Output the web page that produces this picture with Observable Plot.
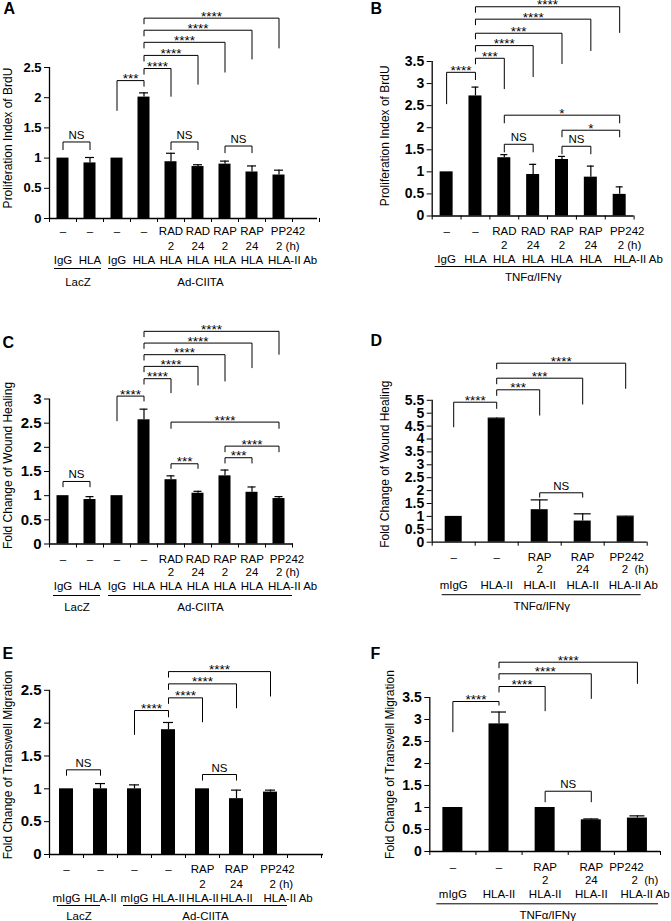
<!DOCTYPE html>
<html><head><meta charset="utf-8">
<script src="https://cdn.jsdelivr.net/npm/d3@7"></script>
<script src="https://cdn.jsdelivr.net/npm/@observablehq/plot@0.6"></script>
<style>
body{margin:0;background:#fff;}
#fig{position:relative;width:671px;height:921px;background:#fff;overflow:hidden;}
.panel{position:absolute;}
.panel svg{overflow:visible;}
</style></head><body><div id="fig"></div>
<script>
// ---------------- DATA ----------------
// Panel A: Proliferation Index of BrdU (LacZ / Ad-CIITA)
const valuesA = [1.00, 0.92, 1.00, 2.01, 0.94, 0.86, 0.90, 0.77, 0.72];
const errorsA = [0, 0.09, 0, 0.07, 0.14, 0.03, 0.05, 0.10, 0.08];
const row1A = ["–", "–", "–", "–", "RAD", "RAD", "RAP", "RAP", "PP242"];
const row2A = ["", "", "", "", "2", "24", "2", "24", "2 (h)"];
const row3A = ["IgG", "HLA", "IgG", "HLA", "HLA", "HLA", "HLA", "HLA", "HLA-II Ab"];
const groupsA = [["LacZ", 0, 1], ["Ad-CIITA", 2, 8]];
const compsA = [[0,1,"NS"],[2,3,"***"],[3,4,"****"],[3,5,"****"],[3,6,"****"],[3,7,"****"],[3,8,"****"],[4,5,"NS"],[6,7,"NS"]];
const ticksA = [0, 0.5, 1, 1.5, 2, 2.5];

// Panel B: Proliferation Index of BrdU (TNFα/IFNγ)
const valuesB = [1.00, 2.72, 1.32, 0.94, 1.28, 0.88, 0.49];
const errorsB = [0, 0.20, 0.07, 0.23, 0.07, 0.25, 0.17];
const row1B = ["–", "–", "RAD", "RAD", "RAP", "RAP", "PP242"];
const row2B = ["", "", "2", "24", "2", "24", "2 (h)"];
const row3B = ["IgG", "HLA", "HLA", "HLA", "HLA", "HLA", "HLA-II Ab"];
const groupsB = [["TNFα/IFNγ", 0, 6]];
const compsB = [[0,1,"****"],[1,2,"***"],[1,3,"****"],[1,4,"***"],[1,5,"****"],[1,6,"****"],[2,6,"*"],[4,6,"*"],[2,3,"NS"],[4,5,"NS"]];
const ticksB = [0, 0.5, 1, 1.5, 2, 2.5, 3, 3.5];

// Panel C: Fold Change of Wound Healing (LacZ / Ad-CIITA)
const valuesC = [1.00, 0.92, 1.00, 2.57, 1.33, 1.05, 1.41, 1.07, 0.94];
const errorsC = [0, 0.06, 0, 0.22, 0.08, 0.04, 0.12, 0.11, 0.04];
const row1C = ["–", "–", "–", "–", "RAD", "RAD", "RAP", "RAP", "PP242"];
const row2C = ["", "", "", "", "2", "24", "2", "24", "2 (h)"];
const row3C = ["IgG", "HLA", "IgG", "HLA", "HLA", "HLA", "HLA", "HLA", "HLA-II Ab"];
const groupsC = [["LacZ", 0, 1], ["Ad-CIITA", 2, 8]];
const compsC = [[0,1,"NS"],[2,3,"****"],[3,4,"****"],[3,5,"****"],[3,6,"****"],[3,7,"****"],[3,8,"****"],[4,8,"****"],[6,8,"****"],[6,7,"***"],[4,5,"***"]];
const ticksC = [0, 0.5, 1, 1.5, 2, 2.5, 3];

// Panel D: Fold Change of Wound Healing (TNFα/IFNγ)
const valuesD = [1.00, 4.78, 1.26, 0.82, 0.98];
const errorsD = [0, 0.03, 0.38, 0.28, 0.03];
const row1D = ["–", "–", "RAP", "RAP", "PP242"];
const row2D = ["", "", "2", "24", "2  (h)"];
const row3D = ["mIgG", "HLA-II", "HLA-II", "HLA-II", "HLA-II Ab"];
const groupsD = [["TNFα/IFNγ", 0, 4]];
const compsD = [[0,1,"****"],[1,2,"***"],[1,3,"***"],[1,4,"****"],[2,3,"NS"]];
const ticksD = [0, 0.5, 1, 1.5, 2, 2.5, 3, 3.5, 4, 4.5, 5, 5.5];

// Panel E: Fold Change of Transwell Migration (LacZ / Ad-CIITA)
const valuesE = [1.00, 1.00, 1.00, 1.90, 1.00, 0.85, 0.95];
const errorsE = [0, 0.08, 0.06, 0.11, 0, 0.13, 0.03];
const row1E = ["–", "–", "–", "–", "RAP", "RAP", "PP242"];
const row2E = ["", "", "", "", "2", "24", "2 (h)"];
const row3E = ["mIgG", "HLA-II", "mIgG", "HLA-II", "HLA-II", "HLA-II", "HLA-II Ab"];
const groupsE = [["LacZ", 0, 1], ["Ad-CIITA", 2, 6]];
const compsE = [[0,1,"NS"],[2,3,"****"],[3,4,"****"],[3,5,"****"],[3,6,"****"],[4,5,"NS"]];
const ticksE = [0, 0.5, 1, 1.5, 2, 2.5];

// Panel F: Fold Change of Transwell Migration (TNFα/IFNγ)
const valuesF = [1.00, 2.90, 1.00, 0.72, 0.76];
const errorsF = [0, 0.27, 0, 0.02, 0.05];
const row1F = ["–", "–", "RAP", "RAP", "PP242"];
const row2F = ["", "", "2", "24", "2  (h)"];
const row3F = ["mIgG", "HLA-II", "HLA-II", "HLA-II", "HLA-II Ab"];
const groupsF = [["TNFα/IFNγ", 0, 4]];
const compsF = [[0,1,"****"],[1,2,"****"],[1,3,"****"],[1,4,"****"],[2,3,"NS"]];
const ticksF = [0, 0.5, 1, 1.5, 2, 2.5, 3, 3.5];

// ---------------- LAYOUT ----------------
// bracket layout per comparison: [level, left-leg end, right-leg end] in y units
const panels = [
  {id:"A", left:0, top:0, width:335, height:300, mL:49, mR:18, mT:67, mB:82, xRange:[49,292], ymax:2.5,
   ticks:ticksA, tickFont:13, values:valuesA, errors:errorsA, rows:[row1A,row2A,row3A], groups:groupsA,
   groupInsets:[[5,2],[5,0]], comps:compsA,
   levels:[[1.267,1.133,1.133],[2.283,1.783,2.183],[2.483,2.383,2.017],[2.70,2.60,2.217],[2.917,2.817,2.417],[3.117,3.017,2.633],[3.317,3.217,2.817],[1.267,1.133,1.133],[1.20,1.083,1.083]],
   barHalf:6, capHalf:4.5, rowDy:[13,28,41.5], lineDy:50, groupDy:64, lastDx:[9,-3,-11], extraTicks:1,
   title:"Proliferation Index of BrdU", titleDx:-41, titleDy:-5, letterX:3, letterY:13.5},
  {id:"B", left:335, top:0, width:336, height:300, mL:96.7, mR:37.4, mT:61, mB:84.5, xRange:[96.7,298.6], ymax:3.5,
   ticks:ticksB, tickFont:14, values:valuesB, errors:errorsB, rows:[row1B,row2B,row3B], groups:groupsB,
   groupInsets:[[3,3]], comps:compsB,
   levels:[[3.255,2.534,3.08],[3.573,3.437,2.875],[3.86,3.724,3.148],[4.14,4.004,3.443],[4.459,4.323,3.739],[4.74,4.604,4.148],[2.284,2.10,2.10],[1.943,1.784,1.784],[1.625,1.443,1.443],[1.58,1.40,1.40]],
   barHalf:6.5, capHalf:3.5, rowDy:[15,29.5,43.5], lineDy:50.5, groupDy:61, lastDx:[7.5,-2,-6], extraTicks:0,
   title:"Proliferation Index of BrdU", titleDx:-46.7, titleDy:-3, letterX:35, letterY:13.5},
  {id:"C", left:0, top:300, width:335, height:320, mL:49, mR:42, mT:98.5, mB:76.5, xRange:[49,292], ymax:3,
   ticks:ticksC, tickFont:15, values:valuesC, errors:errorsC, rows:[row1C,row2C,row3C], groups:groupsC,
   groupInsets:[[4,3],[5,0]], comps:compsC,
   levels:[[1.294,1.176,1.176],[3.06,2.542,2.95],[3.42,3.30,3.122],[3.675,3.555,3.28],[3.917,3.797,3.364],[4.157,4.037,3.64],[4.40,4.28,3.917],[2.522,2.385,2.385],[2.025,1.90,1.90],[1.785,1.667,1.667],[1.66,1.557,1.557]],
   barHalf:6, capHalf:4, rowDy:[15,28,42], lineDy:51.5, groupDy:63, lastDx:[8,-3,-11], extraTicks:0,
   title:"Fold Change of Wound Healing", titleDx:-41, titleDy:-6, letterX:2, letterY:47},
  {id:"D", left:335, top:300, width:336, height:320, mL:96.7, mR:24.3, mT:99.8, mB:78.3, xRange:[96.7,311.7], ymax:5.5,
   ticks:ticksD, tickFont:14, values:valuesD, errors:errorsD, rows:[row1D,row2D,row3D], groups:groupsD,
   groupInsets:[[10,6]], comps:compsD,
   levels:[[5.426,4.457,5.17],[5.907,5.674,4.91],[6.357,6.124,5.337],[6.938,6.705,5.946],[1.915,1.73,1.73]],
   barHalf:8.5, capHalf:8.5, rowDy:[15,27.5,43.5], lineDy:52.5, groupDy:64, lastDx:[1,-4,-17], extraTicks:0,
   title:"Fold Change of Wound Healing", titleDx:-46.7, titleDy:-7, letterX:35, letterY:45},
  {id:"E", left:0, top:620, width:335, height:301, mL:49, mR:12, mT:69.8, mB:67, xRange:[49,287], ymax:2.5,
   ticks:ticksE, tickFont:15, values:valuesE, errors:errorsE, rows:[row1E,row2E,row3E], groups:groupsE,
   groupInsets:[[8,17],[6,0]], comps:compsE,
   levels:[[1.289,1.20,1.20],[2.192,1.822,2.09],[2.385,2.294,2.014],[2.598,2.507,2.227],[2.785,2.694,2.405],[1.218,1.126,1.126]],
   barHalf:7, capHalf:5, rowDy:[15,29.5,43.5], lineDy:51, groupDy:61.5, lastDx:[7,-1,-7], extraTicks:1,
   title:"Fold Change of Transwell Migration", titleDx:-41, titleDy:-7.5, letterX:2, letterY:38},
  {id:"F", left:335, top:620, width:336, height:301, mL:94.3, mR:11, mT:77, mB:70, xRange:[94.3,325], ymax:3.5,
   ticks:ticksF, tickFont:14, values:valuesF, errors:errorsF, rows:[row1F,row2F,row3F], groups:groupsF,
   groupInsets:[[7,2]], comps:compsF,
   levels:[[3.409,2.711,3.318],[3.75,3.614,3.189],[4.039,3.903,3.47],[4.302,4.166,3.811],[1.37,1.12,1.12]],
   barHalf:10, capHalf:7.5, rowDy:[15.5,29,43], lineDy:52.3, groupDy:63.5, lastDx:[-11,-6,-17], extraTicks:0,
   title:"Fold Change of Transwell Migration", titleDx:-39.3, titleDy:-10, letterX:35, letterY:38}
];

const FONT = "Arial, 'Liberation Sans', sans-serif";
const fig = document.getElementById("fig");
const css = document.createElement("style");
css.textContent = panels.map(p =>
  `#p${p.id} g[aria-label^="y-axis"] text{font-weight:bold;font-size:${p.tickFont}px;}`).join("\n");
document.head.appendChild(css);

function makePanel(cfg) {
  const n = cfg.values.length;
  const idx = d3.range(n);
  const fh = cfg.height - cfg.mT - cfg.mB;
  const ppu = fh / cfg.ymax;
  const step = (cfg.xRange[1] - cfg.xRange[0]) / n;
  const bars = idx.map(i => ({i, v: cfg.values[i], e: cfg.errors[i]}));
  const errs = bars.filter(d => d.e > 0);
  const K = "#000";
  const marks = [];
  // bars
  marks.push(Plot.rectY(bars, {x1: d => d.i - cfg.barHalf / step, x2: d => d.i + cfg.barHalf / step, y1: 0, y2: "v", fill: K}));
  // error bars (upper only)
  marks.push(Plot.ruleX(errs, {x: "i", y1: "v", y2: d => d.v + d.e, stroke: K, strokeWidth: 1.2}));
  marks.push(Plot.ruleY(errs, {y: d => d.v + d.e, x1: d => d.i - cfg.capHalf / step, x2: d => d.i + cfg.capHalf / step, stroke: K, strokeWidth: 1.2}));
  // axis lines
  marks.push(Plot.ruleY([0], {stroke: K, strokeWidth: 1.3}));
  marks.push(Plot.ruleX([-0.5], {y1: 0, y2: cfg.ymax, stroke: K, strokeWidth: 1.3}));
  // boundary ticks below x axis
  const bounds = d3.range(n + 1 + cfg.extraTicks).map(i => i - 0.5);
  marks.push(Plot.ruleX(bounds, {x: d => d, y1: 0, y2: -4 / ppu, stroke: K, strokeWidth: 1}));
  // significance brackets
  const br = cfg.comps.map((c, k) => ({a: c[0], b: c[1], label: c[2], lv: cfg.levels[k][0], la: cfg.levels[k][1], lb: cfg.levels[k][2]}));
  marks.push(Plot.link(br, {x1: "a", x2: "b", y1: "lv", y2: "lv", stroke: K, strokeWidth: 1}));
  marks.push(Plot.link(br, {x1: "a", x2: "a", y1: "lv", y2: "la", stroke: K, strokeWidth: 1}));
  marks.push(Plot.link(br, {x1: "b", x2: "b", y1: "lv", y2: "lb", stroke: K, strokeWidth: 1}));
  marks.push(Plot.text(br.filter(d => d.label !== "NS"), {x: d => (d.a + d.b) / 2, y: "lv", text: "label", lineAnchor: "bottom", dy: 2.5, fontSize: 13.5, fill: K}));
  marks.push(Plot.text(br.filter(d => d.label === "NS"), {x: d => (d.a + d.b) / 2, y: "lv", text: "label", lineAnchor: "bottom", dy: -3, fontSize: 11.5, fill: K}));
  // category label rows under the axis
  cfg.rows.forEach((row, r) => {
    const items = idx.slice(0, n - 1).map(i => ({i, t: row[i]})).filter(d => d.t);
    marks.push(Plot.text(items, {x: "i", text: "t", frameAnchor: "bottom", dy: cfg.rowDy[r], lineAnchor: "middle", fontSize: 11.5, fill: K}));
    const last = [{i: n - 1, t: row[n - 1]}].filter(d => d.t);
    marks.push(Plot.text(last, {x: "i", text: "t", frameAnchor: "bottom", dy: cfg.rowDy[r], dx: cfg.lastDx[r], lineAnchor: "middle",
      textAnchor: r === 0 ? "middle" : "start", fontSize: 11.5, fill: K}));
  });
  // group lines and labels
  cfg.groups.forEach((g, k) => {
    const [L, R] = cfg.groupInsets[k];
    marks.push(Plot.ruleY([g], {y: () => 0, x1: d => d[1] - 0.5, x2: d => d[2] + 0.5, insetLeft: L, insetRight: R, dy: cfg.lineDy, stroke: K, strokeWidth: 1}));
    marks.push(Plot.text([g], {x: d => (d[1] + d[2]) / 2, text: d => d[0], frameAnchor: "bottom", dy: cfg.groupDy, dx: (L - R) / 2, lineAnchor: "middle", fontSize: 11.5, fill: K}));
  });
  // y-axis title (anchored at the middle of the y axis)
  marks.push(Plot.text([cfg.title], {x: () => -0.5, y: () => cfg.ymax / 2, text: d => d, rotate: -90, dx: cfg.titleDx, dy: cfg.titleDy, fontSize: 12, fill: K}));
  // panel letter (anchored at the top of the y axis)
  marks.push(Plot.text([cfg.id], {x: () => -0.5, y: () => cfg.ymax, text: d => d, dx: cfg.letterX - cfg.mL, dy: cfg.letterY - cfg.mT,
    textAnchor: "start", lineAnchor: "bottom", fontSize: 16, fontWeight: "bold", fill: K}));

  const svg = Plot.plot({
    width: cfg.width, height: cfg.height,
    marginLeft: cfg.mL, marginRight: cfg.mR, marginTop: cfg.mT, marginBottom: cfg.mB,
    x: {type: "linear", domain: [-0.5, n - 0.5], range: cfg.xRange, axis: null},
    y: {domain: [0, cfg.ymax], ticks: cfg.ticks, tickFormat: d => String(d), tickSize: 5, tickPadding: 3, label: null},
    style: {fontFamily: FONT, fontSize: "12px", background: "transparent", overflow: "visible", color: "#000"},
    marks
  });
  const div = document.createElement("div");
  div.className = "panel";
  div.id = "p" + cfg.id;
  div.style.left = cfg.left + "px";
  div.style.top = cfg.top + "px";
  div.appendChild(svg);
  fig.appendChild(div);
}
panels.forEach(makePanel);
</script>
</body></html>
